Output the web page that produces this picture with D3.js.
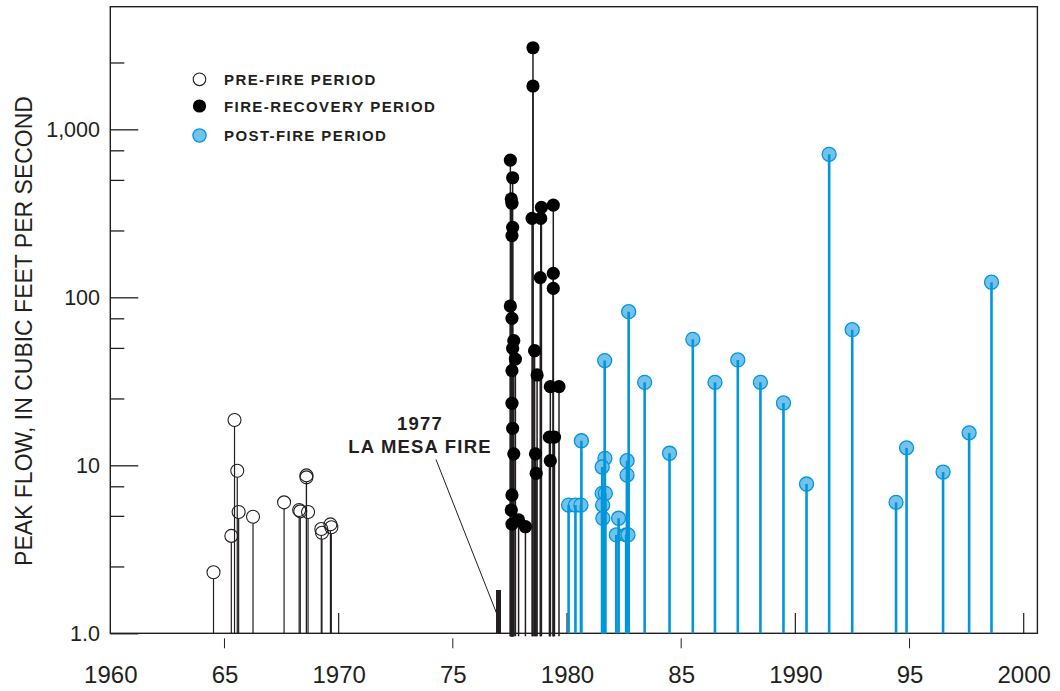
<!DOCTYPE html>
<html><head><meta charset="utf-8">
<script src="https://cdn.jsdelivr.net/npm/d3@7"></script>
<style>
body{margin:0;background:#fff}
svg{display:block}
text{font-family:"Liberation Sans",Arial,Helvetica,sans-serif;fill:#231f20}
</style>
</head><body>
<svg id="c" width="1060" height="691"></svg>
<script>
// ---- data ----
const xTickYears = [1960, 1965, 1970, 1975, 1980, 1985, 1990, 1995, 2000];
const xTickLabels = ["1960", "65", "1970", "75", "1980", "85", "1990", "95", "2000"];
const xDecadeTicks = [1970, 1980, 1990, 2000];
const xHalfTicks = [1965, 1975, 1985, 1995];
const yTickValues = [1, 10, 100, 1000];
const yTickLabels = ["1.0", "10", "100", "1,000"];
const yMinorValues = [2.5, 5, 7.5, 25, 50, 75, 250, 500, 750, 2500];
const legendLabels = ["PRE-FIRE PERIOD", "FIRE-RECOVERY PERIOD", "POST-FIRE PERIOD"];
const fireYear = 1977.0;
const fireMarkTop = 1.81;
const decadeTickTop = 1.32;
const yMax = 5370;
const xMin = 1960, xMax = 2000.6;

const preFire = [
  [1964.52, 2.31], [1965.30, 3.80], [1965.44, 18.6], [1965.56, 9.29], [1965.62, 5.27],
  [1966.25, 4.94], [1967.61, 6.02], [1968.27, 5.42], [1968.32, 5.32], [1968.59, 8.48],
  [1968.59, 8.71], [1968.66, 5.27], [1969.24, 4.18], [1969.27, 3.97], [1969.64, 4.45],
  [1969.68, 4.28]
];
const fireRecovery = [
  [1977.52, 656], [1977.62, 515], [1977.56, 385], [1977.59, 363], [1977.62, 261],
  [1977.59, 233], [1977.52, 88.8], [1977.59, 75], [1977.67, 55.2], [1977.62, 49.7],
  [1977.74, 42.9], [1977.59, 36.6], [1977.59, 23.4], [1977.62, 16.6], [1977.67, 11.7],
  [1977.59, 6.66], [1977.56, 5.42], [1977.59, 4.47], [1977.88, 4.73], [1978.18, 4.31],
  [1978.51, 3060], [1978.51, 1811], [1978.47, 295], [1978.88, 343], [1978.85, 295],
  [1978.83, 131], [1978.58, 48.1], [1978.69, 34.5], [1978.62, 11.7], [1978.65, 8.96],
  [1979.40, 354], [1979.40, 139], [1979.40, 113], [1979.27, 29.4], [1979.65, 29.4],
  [1979.23, 14.7], [1979.45, 14.7], [1979.27, 10.65]
];
const postFire = [
  [1980.07, 5.80], [1980.37, 5.80], [1980.61, 5.80], [1980.63, 14.0],
  [1981.65, 42.0], [1981.66, 11.0], [1981.54, 9.77], [1981.54, 6.81], [1981.68, 6.81],
  [1981.56, 5.80], [1981.57, 4.84], [1982.26, 4.84], [1982.16, 3.85], [1982.59, 3.85],
  [1982.67, 3.85], [1982.63, 10.65], [1982.63, 8.75], [1982.70, 82.1], [1983.40, 31.2],
  [1984.49, 11.8], [1985.51, 56.2], [1986.48, 31.2], [1987.48, 42.4], [1988.47, 31.2],
  [1989.48, 23.5], [1990.49, 7.74], [1991.48, 710], [1992.49, 64.2], [1994.41, 6.02],
  [1994.87, 12.7], [1996.47, 9.12], [1997.61, 15.6], [1998.59, 123]
];

// ---- layout ----
const svg = d3.select("#c");
const ink = "#231f20";
const blueLine = "#0096dc";
const blueFill = "#73c2ec";
const x = d3.scaleLinear().domain([xMin, xMax]).range([110.3, 1037.4]);
const y = d3.scaleLog().domain([1, yMax]).range([633.3, 6.7]);

// frame
svg.append("rect")
  .attr("x", x(xMin)).attr("y", y(yMax))
  .attr("width", x(xMax) - x(xMin)).attr("height", y(1) - y(yMax))
  .attr("fill", "none").attr("stroke", ink).attr("stroke-width", 1.4);

// y axis ticks (inside) + labels
const yAxis = d3.axisRight(y).tickValues(yTickValues).tickSize(28)
  .tickFormat((d, i) => "");
const gy = svg.append("g").attr("transform", `translate(${x(xMin)},0)`).call(yAxis);
gy.select(".domain").remove();
gy.selectAll(".tick line").attr("stroke", ink).attr("stroke-width", 1.3);
const yMinor = d3.axisRight(y).tickValues(yMinorValues).tickSize(14).tickFormat(() => "");
const gym = svg.append("g").attr("transform", `translate(${x(xMin)},0)`).call(yMinor);
gym.select(".domain").remove();
gym.selectAll(".tick line").attr("stroke", ink).attr("stroke-width", 1.3);

svg.append("g").selectAll("text").data(yTickValues).join("text")
  .attr("x", 100).attr("y", d => y(d)).attr("dy", "0.36em")
  .attr("text-anchor", "end").attr("font-size", 21.5)
  .text((d, i) => yTickLabels[i]);

// x axis labels
const xAxis = d3.axisBottom(x).tickValues(xTickYears).tickSize(0)
  .tickFormat((d, i) => xTickLabels[i]).tickPadding(0);
const gx = svg.append("g").attr("transform", `translate(0,${y(1)})`).call(xAxis);
gx.select(".domain").remove();
gx.selectAll(".tick text").attr("font-size", 24).attr("fill", ink)
  .attr("font-family", "'Liberation Sans',Arial,sans-serif")
  .attr("dy", null).attr("y", 50);

// decade ticks inside
svg.append("g").selectAll("line").data(xDecadeTicks).join("line")
  .attr("x1", d => x(d)).attr("x2", d => x(d))
  .attr("y1", y(1)).attr("y2", y(decadeTickTop))
  .attr("stroke", ink).attr("stroke-width", 1.2);
// half-decade ticks below
svg.append("g").selectAll("line").data(xHalfTicks).join("line")
  .attr("x1", d => x(d)).attr("x2", d => x(d))
  .attr("y1", y(1) + 5).attr("y2", y(1) + 15)
  .attr("stroke", ink).attr("stroke-width", 1);

// fire marker
svg.append("rect")
  .attr("x", x(fireYear) - 2.5).attr("width", 5)
  .attr("y", y(fireMarkTop)).attr("height", y(1) - y(fireMarkTop))
  .attr("fill", ink);

// annotation
svg.append("line")
  .attr("x1", 436).attr("y1", 459.5).attr("x2", x(fireYear) - 2).attr("y2", y(decadeTickTop))
  .attr("stroke", ink).attr("stroke-width", 1);
svg.append("text").attr("x", 420).attr("y", 430).attr("text-anchor", "middle")
  .attr("font-size", 18.5).attr("font-weight", "bold").attr("letter-spacing", 1.2).text("1977");
svg.append("text").attr("x", 420).attr("y", 453).attr("text-anchor", "middle")
  .attr("font-size", 18.5).attr("font-weight", "bold").attr("letter-spacing", 1.2).text("LA MESA FIRE");

// ---- pre-fire ----
const r = 6.5;
const gPre = svg.append("g");
gPre.selectAll("line").data(preFire).join("line")
  .attr("x1", d => x(d[0])).attr("x2", d => x(d[0]))
  .attr("y1", y(1)).attr("y2", d => y(d[1]) + r)
  .attr("stroke", ink).attr("stroke-width", 1.2);
gPre.selectAll("circle").data(preFire).join("circle")
  .attr("cx", d => x(d[0])).attr("cy", d => y(d[1])).attr("r", r)
  .attr("fill", "none").attr("stroke", ink).attr("stroke-width", 1.1);

// ---- fire recovery ----
const gFR = svg.append("g");
gFR.selectAll("line").data(fireRecovery).join("line")
  .attr("x1", d => x(d[0])).attr("x2", d => x(d[0]))
  .attr("y1", y(1) + 3).attr("y2", d => y(d[1]))
  .attr("stroke", ink).attr("stroke-width", 1.5);
gFR.selectAll("circle").data(fireRecovery).join("circle")
  .attr("cx", d => x(d[0])).attr("cy", d => y(d[1])).attr("r", 6.6)
  .attr("fill", "#000");

// ---- post fire ----
const gPF = svg.append("g");
gPF.selectAll("circle").data(postFire).join("circle")
  .attr("cx", d => x(d[0])).attr("cy", d => y(d[1])).attr("r", 7)
  .attr("fill", blueFill).attr("stroke", blueLine).attr("stroke-width", 1.3);
gPF.selectAll("line").data(postFire).join("line")
  .attr("x1", d => x(d[0])).attr("x2", d => x(d[0]))
  .attr("y1", y(1)).attr("y2", d => y(d[1]))
  .attr("stroke", blueLine).attr("stroke-width", 2.6);

// ---- legend ----
const lg = svg.append("g");
const ly = [79.3, 106, 135.5];
lg.append("circle").attr("cx", 199.5).attr("cy", ly[0]).attr("r", 6.3)
  .attr("fill", "#fff").attr("stroke", ink).attr("stroke-width", 1.1);
lg.append("circle").attr("cx", 199.5).attr("cy", ly[1]).attr("r", 6.6).attr("fill", "#000");
lg.append("circle").attr("cx", 199.5).attr("cy", ly[2]).attr("r", 6.6)
  .attr("fill", blueFill).attr("stroke", blueLine).attr("stroke-width", 1.3);
lg.selectAll("text").data(legendLabels).join("text")
  .attr("x", 224).attr("y", (d, i) => ly[i] + 5.6)
  .attr("font-size", 15).attr("font-weight", "bold").attr("letter-spacing", 1.4)
  .text(d => d);

// ---- y title ----
svg.append("text")
  .attr("transform", "translate(32,331) rotate(-90)")
  .attr("text-anchor", "middle").attr("font-size", 23)
  .text("PEAK FLOW, IN CUBIC FEET PER SECOND");
</script>
</body></html>
